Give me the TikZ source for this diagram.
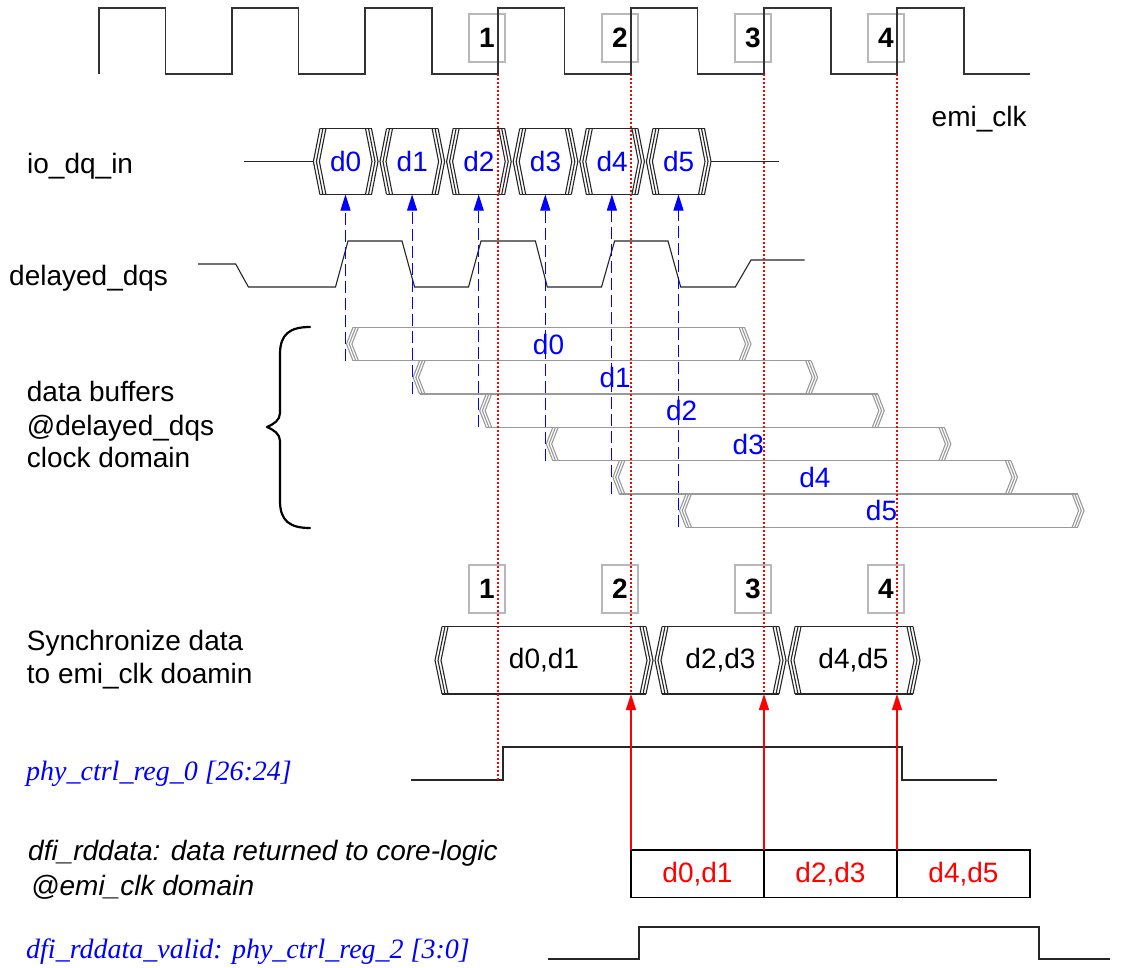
\documentclass[tikz,border=0pt]{standalone}
\usepackage{fontspec}
\setmainfont{Liberation Sans}
\newfontfamily\timesfont{Liberation Serif}
\usetikzlibrary{arrows.meta}
\definecolor{myblue}{RGB}{0,0,255}
\definecolor{myred}{RGB}{255,0,0}
\definecolor{boxgray}{gray}{0.72}
\definecolor{bufgray}{gray}{0.6}
\newcommand\lblfont{\fontsize{28}{33}\selectfont}
% one bus cell with triple chevrons: left tip, right tip, centre y, half height, depth, spacing, style
\newcommand\buscell[7]{%
  \draw[#7] ({#1+#5},{#3-#4}) -- ({#2-#5},{#3-#4});
  \draw[#7] ({#1+#5},{#3+#4}) -- ({#2-#5},{#3+#4});
  \foreach \i in {0,1,2}{
    \draw[#7] ({#1+#6*\i+#5},{#3-#4}) -- ({#1+#6*\i},#3) -- ({#1+#6*\i+#5},{#3+#4});
    \draw[#7] ({#2-#6*\i-#5},{#3-#4}) -- ({#2-#6*\i},#3) -- ({#2-#6*\i-#5},{#3+#4});
  }%
}
\tikzset{
  clockline/.style={line width=1.3pt, black!80, line join=miter},
  wave/.style={line width=1.1pt, black!85, line join=miter},
  bufline/.style={line width=1.1pt, bufgray, line join=miter},
  numbox/.style={draw=boxgray, line width=1.3pt, minimum width=36pt, minimum height=48pt,
    inner sep=0pt, font=\lblfont\bfseries},
  lbl/.style={anchor=base west, inner sep=0pt, font=\lblfont},
  serlbl/.style={anchor=base west, inner sep=0pt, font=\lblfont\timesfont\itshape, text=myblue},
  dqlabel/.style={inner sep=0pt, font=\lblfont, text=myblue},
  seglabel/.style={inner sep=0pt, font=\lblfont, text=black},
  dfibox/.style={draw=black, line width=1.1pt, minimum width=133pt, minimum height=47.7pt,
    inner sep=0pt, outer sep=0pt, font=\lblfont, text=myred},
  bluearrow/.style={myblue, line width=1pt, dash pattern=on 12pt off 5pt,
    -{Triangle[length=16pt,width=10pt]}},
  redarrow/.style={myred, line width=1.3pt, -{Triangle[length=16pt,width=10pt]}},
  reddot/.style={myred, line width=1.3pt, dash pattern=on 2pt off 2pt},
  bracestyle/.style={line width=2.2pt, black, line cap=round, line join=round},
}
\begin{document}
\begin{tikzpicture}[x=1pt,y=-1pt]
\useasboundingbox (0,0) rectangle (1127,967);
\fill[white] (0,0) rectangle (1127,967);

% ---------- number boxes ----------
\foreach \n/\x in {1/487,2/620,3/753,4/886}{
  \node[numbox] (t\n) at (\x,38) {\n};
  \node[numbox] (b\n) at (\x,589) {\n};
}

% ---------- emi_clk ----------
\draw[clockline] (99,74) -- (99,8) -- (165.6,8) -- (165.6,74) -- (232,74) -- (232,8)
  -- (298.8,8) -- (298.8,74) -- (365,74) -- (365,8) -- (432,8) -- (432,74)
  -- (498,74) -- (498,8) -- (564.6,8) -- (564.6,74) -- (631,74) -- (631,8)
  -- (697.8,8) -- (697.8,74) -- (764,74) -- (764,8) -- (831,8) -- (831,74)
  -- (897,74) -- (897,8) -- (964,8) -- (964,74) -- (1030,74);
\node[lbl] (clklbl) at (931.5,126) {emi\_clk};
\coordinate (e1) at (498,74);
\coordinate (e2) at (631,74);
\coordinate (e3) at (764,74);
\coordinate (e4) at (897,74);

% ---------- io_dq_in ----------
\node[lbl] (dqlbl) at (27,173.3) {io\_dq\_in};
\draw[wave] (244,161.5) -- (313.4,161.5);
\draw[wave] (711.4,161.5) -- (779,161.5);
\foreach \k/\t in {0/d0,1/d1,2/d2,3/d3,4/d4,5/d5}{
  \buscell{312.4+66.6*\k+1}{312.4+66.6*(\k+1)-1}{161.5}{33}{6.5}{3}{wave}
  \node[dqlabel] (dq\k) at ({312.4+66.6*\k+33.3},161.5) {\t};
  \coordinate (dqb\k) at ({345.5+66.6*\k},194.5);
}

% ---------- delayed_dqs ----------
\node[lbl] (dqslbl) at (9,285) {delayed\_dqs};
\draw[wave] (198,264) -- (235.7,264) -- (248.4,287) -- (335.5,287) -- (348,241)
  -- (402,241) -- (414.6,287) -- (468.5,287) -- (481,241) -- (535.4,241)
  -- (547.3,287) -- (601.5,287) -- (614.6,241) -- (668,241) -- (680.7,287)
  -- (735.3,287) -- (751,260) -- (804.6,260);

% ---------- data buffers ----------
\node[lbl] (bufl1) at (26.7,401.7) {data buffers};
\node[lbl] (bufl2) at (26.7,435) {@delayed\_dqs};
\node[lbl] (bufl3) at (26.7,467) {clock domain};
\draw[bracestyle] (310,327) .. controls (290,327) and (280,334) .. (280,354)
  -- (280,413) .. controls (280,420) and (274,424) .. (267,427)
  .. controls (274,430) and (280,434) .. (280,441)
  -- (280,501) .. controls (280,521) and (290,528) .. (310,528);
\foreach \k/\t in {0/d0,1/d1,2/d2,3/d3,4/d4,5/d5}{
  \pgfmathsetmacro\lx{346.5+66.6*\k}
  \pgfmathsetmacro\cy{344+33.33*\k}
  \buscell{\lx}{\lx+404.5}{\cy}{16.67}{6.5}{2.7}{bufline}
  \node[dqlabel] (buf\k) at ({\lx+202},\cy) {\t};
  \coordinate (bufb\k) at ({345.5+66.6*\k},{\cy+16.67});
}
\foreach \k in {0,...,5}{
  \draw[bluearrow] (bufb\k) -- (dqb\k);
}

% ---------- synchronize ----------
\node[lbl] (syl1) at (26.7,650.7) {Synchronize data};
\node[lbl] (syl2) at (26.7,683) {to emi\_clk doamin};
\buscell{435}{653}{660.3}{33.7}{7}{3}{wave}
\buscell{655}{786}{660.3}{33.7}{7}{3}{wave}
\buscell{788}{920}{660.3}{33.7}{7}{3}{wave}
\node[seglabel] (s1) at (544,660.3) {d0,d1};
\node[seglabel] (s2) at (720.5,660.3) {d2,d3};
\node[seglabel] (s3) at (853.5,660.3) {d4,d5};
\coordinate (sa2) at (631,694);
\coordinate (sa3) at (764,694);
\coordinate (sa4) at (897,694);

% ---------- phy_ctrl_reg_0 ----------
\node[serlbl] (phylbl) at (26,780) {phy\_ctrl\_reg\_0 [26:24]};
\draw[wave] (411,780) -- (503,780) -- (503,747) -- (902,747) -- (902,780) -- (997,780);
\coordinate (p1) at (498,782);

% ---------- dfi_rddata ----------
\node[lbl, font=\lblfont\itshape] (dfil1) at (28,860) {dfi\_rddata: data returned to core-logic};
\node[lbl, font=\lblfont\itshape] (dfil2) at (31,895) {@emi\_clk domain};
\node[dfibox] (r1) at (697.5,873.85) {d0,d1};
\node[dfibox] (r2) at (830.5,873.85) {d2,d3};
\node[dfibox] (r3) at (963.5,873.85) {d4,d5};

% ---------- dfi_rddata_valid ----------
\node[serlbl] (vallbl) at (26,958.3) {dfi\_rddata\_valid: phy\_ctrl\_reg\_2 [3:0]};
\draw[wave] (548,959) -- (639,959) -- (639,927) -- (1039,927) -- (1039,959) -- (1110,959);

% ---------- red timing lines ----------
\draw[reddot] (e1) -- (p1);
\draw[reddot] (e2) -- (sa2);
\draw[reddot] (e3) -- (sa3);
\draw[reddot] (e4) -- (sa4);
\draw[redarrow] (r1.north west) -- (sa2);
\draw[redarrow] (r2.north west) -- (sa3);
\draw[redarrow] (r3.north west) -- (sa4);
\end{tikzpicture}
\end{document}
